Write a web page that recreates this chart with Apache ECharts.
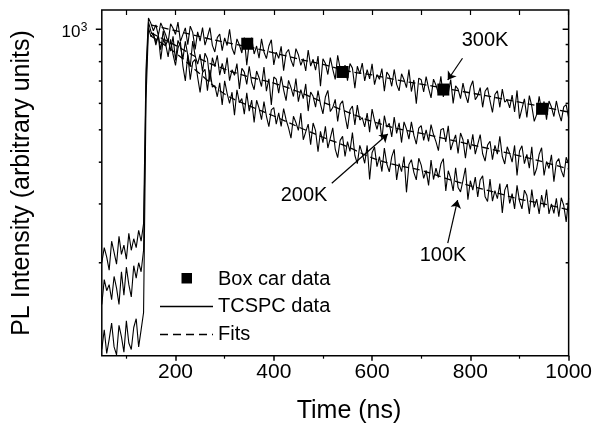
<!DOCTYPE html>
<html>
<head>
<meta charset="utf-8">
<script src="https://cdn.jsdelivr.net/npm/echarts@6/dist/echarts.min.js"></script>
<style>
html, body { margin: 0; padding: 0; background: #fff; }
#container { width: 595px; height: 428px; }
</style>
</head>
<body>
<div id="container"></div>
<script>
// time grid of the TCSPC traces (ns)
var times = [50, 55, 60, 65, 70, 75, 80, 85, 90, 95, 100, 105, 110, 115, 120, 125, 130, 135, 140, 145, 150, 155,
    160, 165, 170, 175, 180, 185, 190, 195, 200, 205, 210, 215, 220, 225, 230, 235, 240, 245, 250, 255,
    260, 265, 270, 275, 280, 285, 290, 295, 300, 305, 310, 315, 320, 325, 330, 335, 340, 345, 350, 355,
    360, 365, 370, 375, 380, 385, 390, 395, 400, 405, 410, 415, 420, 425, 430, 435, 440, 445, 450, 455,
    460, 465, 470, 475, 480, 485, 490, 495, 500, 505, 510, 515, 520, 525, 530, 535, 540, 545, 550, 555,
    560, 565, 570, 575, 580, 585, 590, 595, 600, 605, 610, 615, 620, 625, 630, 635, 640, 645, 650, 655,
    660, 665, 670, 675, 680, 685, 690, 695, 700, 705, 710, 715, 720, 725, 730, 735, 740, 745, 750, 755,
    760, 765, 770, 775, 780, 785, 790, 795, 800, 805, 810, 815, 820, 825, 830, 835, 840, 845, 850, 855,
    860, 865, 870, 875, 880, 885, 890, 895, 900, 905, 910, 915, 920, 925, 930, 935, 940, 945, 950, 955,
    960, 965, 970, 975, 980, 985, 990, 995, 1000]

var tcspc300 = [200, 222, 208, 190, 232, 215, 198, 240, 212, 226, 205, 245, 218, 236, 222, 250, 232, 262, 760, 1080, 1040, 990,
    1030, 958, 1045, 1004, 963, 912, 1038, 1007, 965, 1050,
    919, 964, 1010, 899, 1022, 979, 871, 982, 922, 1012,
    896, 948, 1011, 895, 855, 944, 968, 863, 942, 894,
    1000, 879, 840, 936, 897, 849, 944, 781, 912, 943,
    843, 891, 819, 936, 855, 817, 891, 930, 782, 854,
    818, 889, 752, 849, 870, 809, 773, 875, 839, 780,
    817, 750, 867, 776, 813, 754, 831, 675, 816, 790,
    732, 823, 758, 708, 836, 764, 731, 781, 702, 790,
    765, 666, 775, 735, 792, 701, 757, 710, 788, 683,
    732, 708, 763, 653, 744, 726, 675, 758, 684, 654,
    736, 706, 669, 758, 651, 705, 599, 714, 706, 649,
    722, 665, 623, 709, 680, 644, 723, 627, 678, 643,
    707, 600, 677, 662, 620, 690, 636, 602, 671, 701,
    615, 633, 669, 584, 652, 669, 610, 564, 638, 654,
    584, 662, 605, 615, 582, 635, 566, 656, 540, 579,
    619, 545, 633, 589, 530, 556, 630, 569, 608, 536,
    610, 585, 548, 610, 562, 531, 586, 595, 542]

var tcspc200 = [150, 178, 165, 172, 155, 182, 168, 150, 188, 160, 194, 172, 158, 196, 180, 200, 188, 218, 700, 1050, 985, 960,
    913, 957, 868, 990, 894, 937, 860, 952, 806, 926,
    889, 814, 920, 836, 772, 922, 831, 787, 842, 747,
    848, 816, 697, 822, 773, 836, 729, 790, 735, 823,
    702, 756, 728, 789, 663, 764, 744, 684, 775, 693,
    659, 750, 716, 674, 771, 653, 711, 594, 720, 709,
    644, 723, 659, 611, 703, 669, 629, 712, 607, 660,
    620, 686, 569, 649, 630, 585, 655, 597, 558, 627,
    656, 567, 583, 617, 530, 596, 611, 550, 503, 573,
    589, 517, 593, 535, 544, 510, 561, 492, 577, 533,
    502, 539, 469, 551, 509, 523, 476, 546, 488, 525,
    458, 528, 503, 469, 528, 482, 453, 506, 515, 465,
    500, 462, 518, 484, 461, 433, 500, 505, 460, 514,
    435, 460, 483, 425, 489, 467, 411, 469, 437, 485,
    423, 452, 484, 424, 403, 450, 462, 407, 449, 423,
    478, 416, 395, 445, 425, 400, 449, 365, 432, 448,
    396, 422, 384, 445, 365, 383, 422, 442, 365, 402,
    383, 421, 350, 400, 410, 378, 361, 414, 395]

var tcspc100 = [110, 126, 107, 118, 132, 112, 106, 130, 120, 108, 134, 115, 110, 128, 136, 112, 126, 142, 620, 1010, 950, 975,
    897, 960, 812, 932, 901, 827, 933, 839, 779, 878,
    916, 776, 700, 840, 706, 797, 813, 719, 647, 742,
    759, 655, 756, 671, 678, 628, 691, 594, 701, 643,
    600, 648, 553, 659, 603, 620, 557, 645, 569, 614,
    526, 613, 581, 536, 607, 549, 511, 574, 583, 520,
    562, 512, 579, 536, 507, 472, 549, 526, 498, 561,
    467, 493, 520, 451, 524, 497, 430, 495, 458, 512,
    441, 472, 507, 438, 413, 465, 478, 416, 461, 431,
    491, 419, 396, 449, 425, 397, 449, 355, 427, 444,
    388, 416, 375, 441, 395, 374, 415, 437, 354, 396,
    375, 416, 325, 394, 407, 373, 354, 411, 392, 358,
    378, 341, 406, 355, 384, 360, 395, 410, 328, 377,
    358, 328, 385, 336, 326, 353, 385, 309, 352, 330,
    361, 315, 354, 364, 315, 305, 356, 306, 329, 311,
    345, 282, 330, 344, 301, 322, 290, 341, 306, 290,
    330, 318, 280, 331, 293, 310, 280, 319, 293, 331,
    280, 300, 281, 312, 275, 313, 297, 265, 312]

// fitted decays
var fitTime = [150, 200, 250, 300, 350, 400, 450, 500, 550, 600, 650, 700, 750, 800, 850, 900, 950, 1000]
var fit300 = [1030, 990, 950, 915, 885, 850, 815, 785, 750, 730, 705, 685, 665, 645, 625, 605, 585, 565]
var fit200 = [975, 895, 815, 760, 720, 690, 650, 605, 565, 530, 505, 488, 470, 452, 435, 418, 400, 382]
var fit100 = [955, 850, 735, 640, 590, 550, 510, 475, 445, 412, 392, 378, 358, 340, 325, 310, 300, 288]

// box car points (300K)
var boxTime = [346, 540, 745, 946]
var boxValue = [905, 745, 660, 578]

// axis ticks
var xMajor = [200, 400, 600, 800, 1000]
var xMinor = [100, 300, 500, 700, 900]
var xTop = [100, 200, 300, 400, 500, 600, 700, 800, 900, 1000]
var yTickVals = [200, 300, 400, 500, 600, 700, 800, 900, 1000]

var FONT = '"Liberation Sans", Arial, sans-serif'
var xMin = 50, xMax = 1000, yMin = 105.4, yMax = 1142

function pairs(xs, ys) {
    return xs.map(function(x, i) {
        return [x, ys[i]]
    })
}

var dom = document.getElementById('container')
var myChart = echarts.init(dom)

var black = '#000'

function traceSeries(vals) {
    return {
        name: 'TCSPC data',
        type: 'line',
        data: pairs(times, vals),
        symbol: 'none',
        lineStyle: {color: black, width: 1.1},
        z: 3
    }
}

function fitSeries(vals) {
    return {
        name: 'Fits',
        type: 'line',
        data: pairs(fitTime, vals),
        symbol: 'none',
        smooth: 0.4,
        lineStyle: {color: black, width: 1.3, type: [7, 4]},
        z: 4
    }
}

var option = {
    animation: false,
    grid: {
        left: 101.8, right: 23.3, top: 10, bottom: 72.3,
        show: true, borderColor: black, borderWidth: 1.5, backgroundColor: 'transparent'
    },
    xAxis: [
        {
            type: 'value', min: xMin, max: xMax,
            axisLine: {show: false}, splitLine: {show: false},
            axisTick: {customValues: xMajor, length: 5, lineStyle: {color: black, width: 1.5}},
            axisLabel: {
                customValues: xMajor, color: black, fontSize: 21, fontFamily: FONT, margin: 6,
                formatter: function(v) { return String(v) }
            }
        },
        {
            type: 'value', min: xMin, max: xMax, position: 'bottom',
            axisLine: {show: false}, splitLine: {show: false},
            axisTick: {customValues: xMinor, length: 3, lineStyle: {color: black, width: 1.2}},
            axisLabel: {show: false}
        },
        {
            type: 'value', min: xMin, max: xMax, position: 'top',
            axisLine: {show: false}, splitLine: {show: false},
            axisTick: {customValues: xTop, inside: true, length: 5, lineStyle: {color: black, width: 1.2}},
            axisLabel: {show: false}
        }
    ],
    yAxis: {
        type: 'log', min: yMin, max: yMax,
        axisLine: {show: false}, splitLine: {show: false},
        axisTick: {show: false}, axisLabel: {show: false}, minorTick: {show: false}
    },
    series: [
        traceSeries(tcspc300),
        traceSeries(tcspc200),
        traceSeries(tcspc100),
        fitSeries(fit300),
        fitSeries(fit200),
        fitSeries(fit100),
        {
            name: 'Box car data',
            type: 'scatter',
            data: pairs(boxTime, boxValue),
            symbol: 'rect',
            symbolSize: 12,
            itemStyle: {color: black, opacity: 1},
            z: 5,
            markLine: {
                silent: true,
                symbol: ['none', 'arrow'],
                symbolSize: 8,
                label: {show: false},
                lineStyle: {color: black, width: 1.2, type: 'solid'},
                data: [
                    [{coord: [784, 819]}, {coord: [754, 705]}],
                    [{coord: [518, 346]}, {coord: [632, 486]}],
                    [{coord: [754, 229]}, {coord: [774, 308]}]
                ]
            }
        },
        {
            // ticks of the log axis, left (outside) and right (inside)
            type: 'custom',
            silent: true,
            clip: false,
            z: 6,
            data: pairs(yTickVals.map(function() { return xMin }), yTickVals),
            encode: {x: 0, y: 1},
            renderItem: function(params, api) {
                var v = api.value(1)
                var l = api.coord([xMin, v])
                var r = api.coord([xMax, v])
                var major = v === 1000
                var len = major ? 6 : 3
                var children = [
                    {type: 'line', shape: {x1: l[0] - len, y1: l[1], x2: l[0], y2: l[1]}, style: {stroke: black, lineWidth: 1.5}},
                    {type: 'line', shape: {x1: r[0] - len, y1: r[1], x2: r[0], y2: r[1]}, style: {stroke: black, lineWidth: 1.5}}
                ]
                if (major) {
                    children.push({
                        type: 'text', x: l[0] - 21.3, y: l[1] + 3.2,
                        style: {text: '10', fill: black, fontSize: 17, fontFamily: FONT, align: 'right', verticalAlign: 'middle'}
                    })
                    children.push({
                        type: 'text', x: l[0] - 21, y: l[1] - 2,
                        style: {text: '3', fill: black, fontSize: 12, fontFamily: FONT, align: 'left', verticalAlign: 'middle'}
                    })
                }
                return {type: 'group', children: children}
            }
        }
    ],
    graphic: [
        {type: 'text', x: 22, y: 183, rotation: Math.PI / 2,
            style: {text: 'PL Intensity (arbitrary units)', fill: black, fontSize: 25, fontFamily: FONT, align: 'center', verticalAlign: 'middle'}},
        {type: 'text', x: 349, y: 411,
            style: {text: 'Time (ns)', fill: black, fontSize: 25, fontFamily: FONT, align: 'center', verticalAlign: 'middle'}},
        {type: 'text', x: 485, y: 40.5,
            style: {text: '300K', fill: black, fontSize: 20, fontFamily: FONT, align: 'center', verticalAlign: 'middle'}},
        {type: 'text', x: 304, y: 195.5,
            style: {text: '200K', fill: black, fontSize: 20, fontFamily: FONT, align: 'center', verticalAlign: 'middle'}},
        {type: 'text', x: 443, y: 255.5,
            style: {text: '100K', fill: black, fontSize: 20, fontFamily: FONT, align: 'center', verticalAlign: 'middle'}},
        // legend
        {type: 'rect', shape: {x: 181.5, y: 273, width: 10.5, height: 10.5}, style: {fill: black}},
        {type: 'text', x: 218, y: 279,
            style: {text: 'Box car data', fill: black, fontSize: 20, fontFamily: FONT, align: 'left', verticalAlign: 'middle'}},
        {type: 'line', shape: {x1: 160, y1: 306.5, x2: 213, y2: 306.5}, style: {stroke: black, lineWidth: 1.3}},
        {type: 'text', x: 218, y: 306.5,
            style: {text: 'TCSPC data', fill: black, fontSize: 20, fontFamily: FONT, align: 'left', verticalAlign: 'middle'}},
        {type: 'line', shape: {x1: 160, y1: 334.5, x2: 213, y2: 334.5}, style: {stroke: black, lineWidth: 1.3, lineDash: [8, 5]}},
        {type: 'text', x: 218, y: 334.5,
            style: {text: 'Fits', fill: black, fontSize: 20, fontFamily: FONT, align: 'left', verticalAlign: 'middle'}}
    ]
}

myChart.setOption(option)
</script>
</body>
</html>
